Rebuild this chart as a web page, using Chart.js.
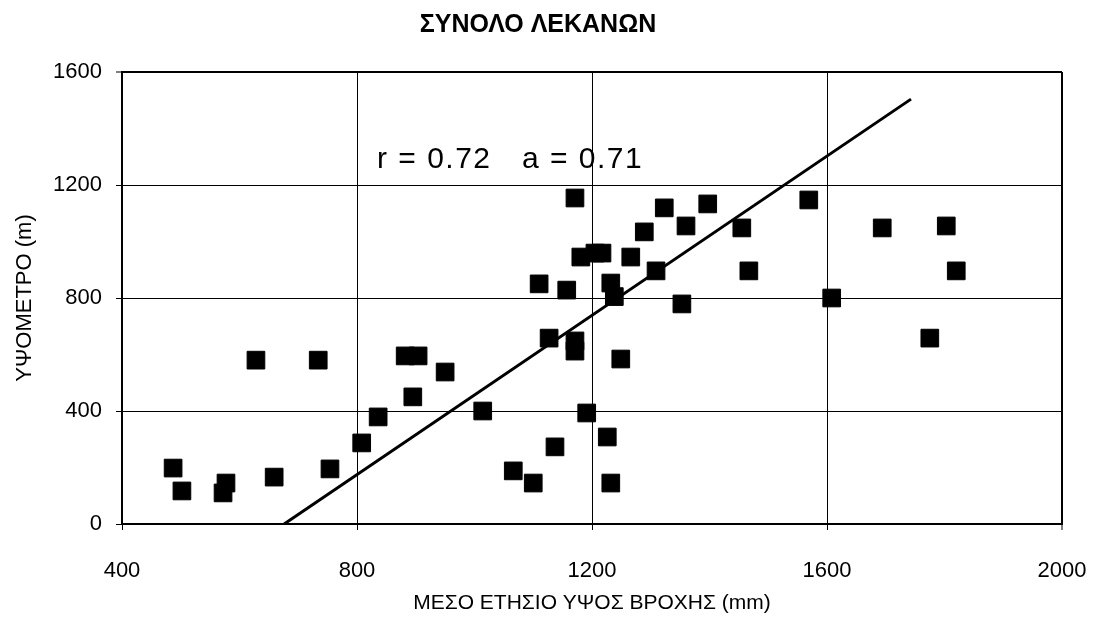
<!DOCTYPE html>
<html>
<head>
<meta charset="utf-8">
<script src="https://cdn.jsdelivr.net/npm/chart.js@4"></script>
<style>
  html, body { margin: 0; padding: 0; background: #fff; }
  #chart { display: block; }
</style>
</head>
<body>
<canvas id="chart" width="1096" height="627"></canvas>
<script>
// rainfall (mm) vs elevation (m)
const rainX = [487, 502, 572, 577, 628, 659, 734, 754, 808, 836, 882, 904, 895, 950,
  1014, 1066, 1100, 1110, 1127, 1137, 1157, 1171, 1171, 1171, 1181, 1191, 1205, 1217,
  1226, 1232, 1232, 1238, 1249, 1266, 1289, 1309, 1323, 1353, 1360, 1397, 1455, 1467,
  1569, 1608, 1694, 1775, 1803, 1820];
const elevY = [198, 117, 110, 145, 580, 166, 580, 195, 287, 379, 595, 595, 450, 538,
  400, 188, 145, 850, 658, 273, 828, 648, 612, 1154, 945, 393, 959, 959,
  308, 853, 145, 805, 584, 945, 1034, 896, 1119, 779, 1055, 1133, 1048, 896,
  1147, 800, 1048, 658, 1055, 896];

// regression line end points
const trendX = [676, 1743];
const trendY = [0, 1504];

const xTicks = [400, 800, 1200, 1600, 2000];
const yTicks = [0, 400, 800, 1200, 1600];

const chartTitle = "ΣΥΝΟΛΟ ΛΕΚΑΝΩΝ";
const xTitle = "ΜΕΣΟ ΕΤΗΣΙΟ ΥΨΟΣ ΒΡΟΧΗΣ (mm)";
const yTitle = "ΥΨΟΜΕΤΡΟ (m)";
const statR = "r = 0.72";
const statA = "a = 0.71";
const statAt = [834, 1288];

const FONT = "'Liberation Sans', Arial, sans-serif";

const pts = rainX.map((x, i) => ({ x: x, y: elevY[i] }));
const trend = trendX.map((x, i) => ({ x: x, y: trendY[i] }));

// title and r / a labels
const textPlugin = {
  id: "texts",
  afterDraw(chart) {
    const c = chart.ctx;
    const sx = chart.scales.x, sy = chart.scales.y;
    c.save();
    c.fillStyle = "#000";
    c.textBaseline = "middle";
    c.textAlign = "center";
    c.font = "bold 25px " + FONT;
    c.fillText(chartTitle, 538, 25);
    c.textAlign = "left";
    c.font = "30px " + FONT;
    c.letterSpacing = "1.5px";
    const px = sx.getPixelForValue(statAt[0]);
    const py = sy.getPixelForValue(statAt[1]);
    c.fillText(statR, px, py);
    c.fillText(statA, px + 145, py);
    c.restore();
  }
};

function edgeWidth(ctx) {
  return (ctx.index === 4) ? 2 : 1;
}

new Chart(document.getElementById("chart"), {
  type: "scatter",
  data: {
    datasets: [
      {
        data: pts,
        pointStyle: "rect",
        pointRadius: 12.5,
        pointHoverRadius: 12.5,
        backgroundColor: "#000",
        borderColor: "#000",
        borderWidth: 1,
      },
      {
        type: "line",
        data: trend,
        showLine: true,
        borderColor: "#000",
        borderWidth: 3,
        pointRadius: 0,
        fill: false,
      },
    ],
  },
  options: {
    responsive: false,
    animation: false,
    events: [],
    layout: { padding: { top: 72, right: 34, left: 0, bottom: 0 } },
    plugins: {
      legend: { display: false },
      tooltip: { enabled: false },
    },
    scales: {
      x: {
        type: "linear",
        min: 400,
        max: 2000,
        afterBuildTicks: (s) => { s.ticks = xTicks.map(v => ({ value: v })); },
        afterFit: (s) => {
          s.height = 103;
          s.paddingLeft = 0;
          s.paddingRight = 0;
        },
        ticks: {
          color: "#000",
          font: { family: FONT, size: 22 },
          padding: 28,
          maxRotation: 0,
          callback: (v) => String(v),
        },
        grid: { color: "#000", lineWidth: edgeWidth, tickLength: 6, tickColor: "#000", tickWidth: 1 },
        border: { color: "#000", width: 2 },
        title: {
          display: true,
          text: xTitle,
          color: "#000",
          font: { family: FONT, size: 21 },
          padding: { top: 0, bottom: 11 },
        },
      },
      y: {
        type: "linear",
        min: 0,
        max: 1600,
        afterBuildTicks: (s) => { s.ticks = yTicks.map(v => ({ value: v })); },
        afterFit: (s) => {
          s.width = 122;
          s.paddingTop = 0;
          s.paddingBottom = 0;
        },
        ticks: {
          color: "#000",
          font: { family: FONT, size: 22 },
          padding: 14,
          callback: (v) => String(v),
        },
        grid: { color: "#000", lineWidth: edgeWidth, tickLength: 6, tickColor: "#000", tickWidth: 1 },
        border: { color: "#000", width: 2 },
        title: {
          display: true,
          text: yTitle,
          color: "#000",
          font: { family: FONT, size: 22 },
          padding: { top: 12, bottom: 0 },
        },
      },
    },
  },
  plugins: [textPlugin],
});
</script>
</body>
</html>
